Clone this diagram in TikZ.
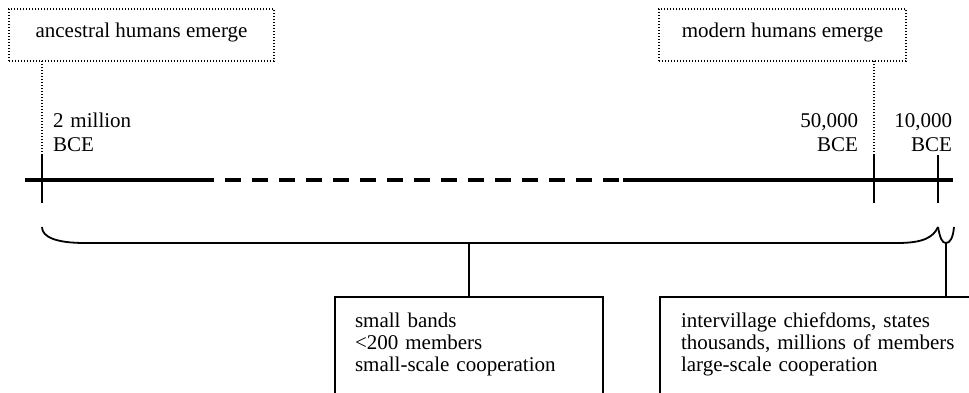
\documentclass[tikz,border=0pt]{standalone}
\usepackage{fontspec}
\setmainfont{Liberation Serif}
\begin{document}
\begin{tikzpicture}[x=1pt,y=-1pt,
  every node/.style={inner sep=0pt, outer sep=0pt},
  txt/.style={font=\fontsize{21}{22}\selectfont},
  lbl/.style={font=\fontsize{21}{24}\selectfont, text width=90pt},
  dotbox/.style={draw, line width=1.3pt, dash pattern=on 1.3pt off 1.7pt},
  dotline/.style={line width=1.3pt, dash pattern=on 1.3pt off 1.7pt},
  axisline/.style={line width=3.2pt},
  tickline/.style={line width=2pt},
  braceline/.style={line width=1.8pt},
  boxst/.style={draw, line width=1.8pt, anchor=north west, minimum height=120pt},
]
\useasboundingbox (0,0) rectangle (969,392);
% top dotted boxes
\node[dotbox, minimum width=265pt, minimum height=52pt, anchor=north west] (anc) at (9,9) {};
\node[txt, anchor=base] (anct) at (141.5,37) {ancestral humans emerge};
\node[dotbox, minimum width=247pt, minimum height=52pt, anchor=north west] (mod) at (659,9) {};
\node[txt, anchor=base] (modt) at (782.5,37) {modern humans emerge};
% axis
\coordinate (a0) at (25,180);
\coordinate (a1) at (205,180);
\coordinate (d0) at (198,180);
\coordinate (d1) at (620,180);
\coordinate (a2) at (623,180);
\coordinate (a3) at (953,180);
\draw[axisline] (a0) -- (a1);
\draw[axisline, dash pattern=on 16pt off 11pt] (d0) -- (d1);
\draw[axisline] (a2) -- (a3);
% ticks
\coordinate (t1a) at (42,155); \coordinate (t1b) at (42,203);
\coordinate (t2a) at (874,155); \coordinate (t2b) at (874,203);
\coordinate (t3a) at (938,155); \coordinate (t3b) at (938,203);
\draw[tickline] (t1a) -- (t1b);
\draw[tickline] (t2a) -- (t2b);
\draw[tickline] (t3a) -- (t3b);
\draw[dotline] (anc.south -| t1a) -- (t1a);
\draw[dotline] (mod.south -| t2a) -- (t2a);
% labels
\node[lbl, align=left, anchor=base west] (l1) at (53,127) {2 million\\BCE};
\node[lbl, align=right, anchor=base east] (l2) at (858,127) {50,000\\BCE};
\node[lbl, align=right, anchor=base east] (l3) at (952,127) {10,000\\BCE};
% boxes
\begin{scope}
\clip (0,0) rectangle (969,392);
\node[boxst, minimum width=268pt] (b1) at (335,297) {};
\node[boxst, minimum width=340pt] (b2) at (660,297) {};
\end{scope}
\node[txt, align=left, text width=240pt, anchor=base west] (b1t) at (355,327) {small bands\\{<}200 members\\small-scale cooperation};
\node[txt, align=left, text width=290pt, anchor=base west] (b2t) at (681,327) {intervillage chiefdoms, states\\thousands, millions of members\\large-scale cooperation};
% braces
\coordinate (bl) at (42,227);
\coordinate (bm) at (469,243);
\coordinate (br) at (938,227);
\coordinate (sm) at (946,243);
\coordinate (se) at (954,227);
\draw[braceline] (bl) .. controls (42,237) and (56,243) .. (85,243) -- (897,243) .. controls (922,243) and (933,238) .. (br);
\draw[braceline] (br) .. controls (940,238) and (942,243) .. (sm) .. controls (950,243) and (953,238) .. (se);
\draw[braceline] (bm) -- (b1.north);
\draw[braceline] (sm) -- (b2.north -| sm);
\end{tikzpicture}
\end{document}
